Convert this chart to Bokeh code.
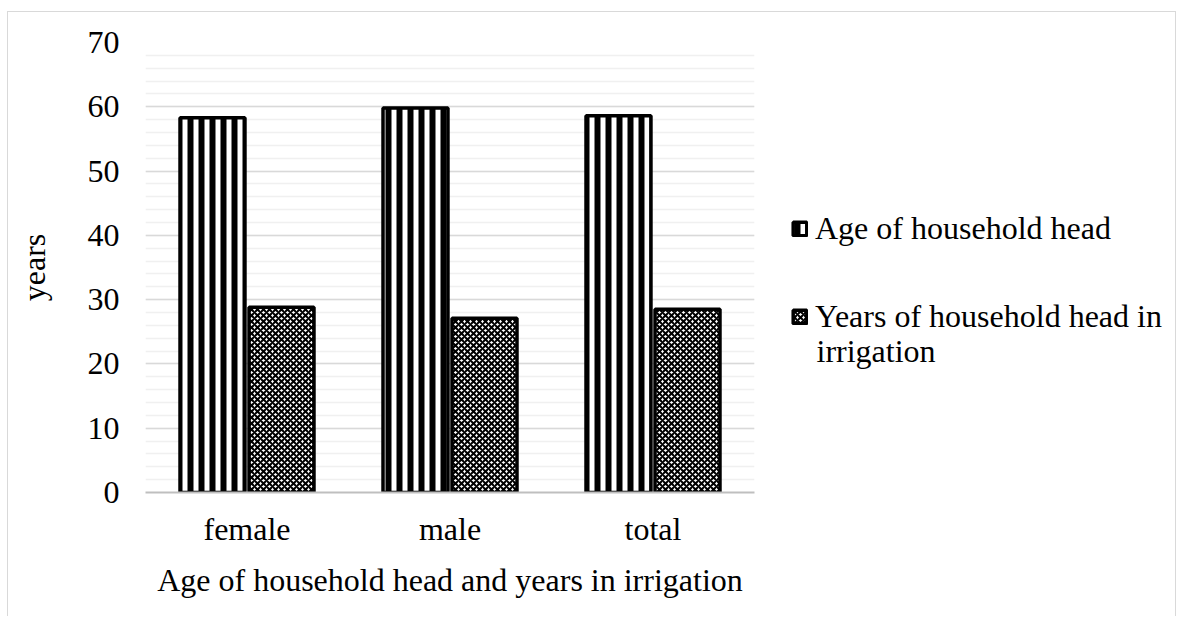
from bokeh.plotting import figure
from bokeh.layouts import row
from bokeh.models import (FactorRange, Range1d, SingleIntervalTicker, Legend,
                          LegendItem, ColumnDataSource, Label)
from bokeh.transform import dodge
from bokeh.embed import file_html
from bokeh.resources import INLINE

# ---- data ----
categories = ["female", "male", "total"]
age_of_head = [58.3, 59.8, 58.6]
years_in_irrigation = [28.8, 27.1, 28.5]
series_names = ["Age of household head", "Years of household head in"]
series2_wrap = "irrigation"
y_axis_title = "years"
x_axis_title = "Age of household head and years in irrigation"

FONT = "Liberation Serif"
FS = "32px"
H = 604

AGE_STYLE = dict(fill_color="white", line_color="black", line_width=3.5,
                 hatch_pattern="vertical_line", hatch_color="black",
                 hatch_weight=6, hatch_scale=11)
YRS_STYLE = dict(fill_color="white", line_color="black", line_width=3.5,
                 hatch_pattern="diagonal_cross", hatch_color="black",
                 hatch_weight=2, hatch_scale=6)

src = ColumnDataSource(dict(cat=categories, age=age_of_head, yrs=years_in_irrigation))

p = figure(width=756, height=H, output_backend="svg", toolbar_location=None,
           x_range=FactorRange(factors=categories), y_range=Range1d(0, 70),
           min_border_left=137, min_border_right=10, min_border_top=30,
           min_border_bottom=H - 30 - 450)
p.outline_line_color = None

r1 = p.vbar(x=dodge("cat", -0.17, range=p.x_range), top="age", width=0.32, bottom=0,
            source=src, **AGE_STYLE)
r2 = p.vbar(x=dodge("cat", 0.17, range=p.x_range), top="yrs", width=0.32, bottom=0,
            source=src, **YRS_STYLE)

# axes
p.yaxis.ticker = SingleIntervalTicker(interval=10, num_minor_ticks=5)
p.yaxis.axis_line_color = None
p.yaxis.major_tick_line_color = None
p.yaxis.minor_tick_line_color = None
p.yaxis.major_label_standoff = 20
p.yaxis.major_label_text_font = FONT
p.yaxis.major_label_text_font_size = FS
p.yaxis.major_label_text_color = "black"
p.yaxis.axis_label = y_axis_title
p.yaxis.axis_label_text_font = FONT
p.yaxis.axis_label_text_font_size = FS
p.yaxis.axis_label_text_font_style = "normal"
p.yaxis.axis_label_text_color = "black"
p.yaxis.axis_label_standoff = 33

p.xaxis.axis_line_color = "#bfbfbf"
p.xaxis.axis_line_width = 2
p.xaxis.major_tick_line_color = None
p.xaxis.minor_tick_line_color = None
p.xaxis.major_label_standoff = 12
p.xaxis.major_label_text_font = FONT
p.xaxis.major_label_text_font_size = FS
p.xaxis.major_label_text_color = "black"
p.xaxis.axis_label = x_axis_title
p.xaxis.axis_label_text_font = FONT
p.xaxis.axis_label_text_font_size = FS
p.xaxis.axis_label_text_font_style = "normal"
p.xaxis.axis_label_text_color = "black"
p.xaxis.axis_label_standoff = 12

p.xgrid.grid_line_color = None
p.ygrid.grid_line_color = "#d9d9d9"
p.ygrid.grid_line_width = 1.5
p.ygrid.minor_grid_line_color = "#f0f0f0"
p.ygrid.minor_grid_line_width = 1.5

# ---- legend panel (proxy renderers map outside its ranges, so only the legend shows) ----
lg = figure(width=411, height=H, output_backend="svg", toolbar_location=None,
            x_range=FactorRange(factors=["legend"]), y_range=Range1d(-20, -10),
            min_border=0, min_border_left=0, min_border_right=0,
            min_border_top=0, min_border_bottom=0)
lg.axis.visible = False
lg.grid.visible = False
lg.outline_line_color = None
d1 = lg.vbar(x="cat", top="age", width=0.1, bottom=0, source=src, **AGE_STYLE)
d2 = lg.vbar(x="cat", top="yrs", width=0.1, bottom=0, source=src, **YRS_STYLE)

legend = Legend(items=[LegendItem(label=series_names[0], renderers=[d1], index=0),
                       LegendItem(label=series_names[1], renderers=[d2], index=0)],
                location=(27, 157), orientation="vertical")
legend.border_line_color = None
legend.background_fill_alpha = 0
legend.padding = 0
legend.margin = 0
legend.spacing = 51
legend.glyph_width = 17
legend.glyph_height = 17
legend.label_standoff = 7
legend.label_text_font = FONT
legend.label_text_font_size = FS
legend.label_text_color = "black"
lg.add_layout(legend, "center")

lg.add_layout(Label(x=52, y=142, x_units="screen", y_units="screen",
                    text=series2_wrap, text_font=FONT, text_font_size=FS,
                    text_color="black", text_baseline="middle"))

layout = row(p, lg, margin=(11, 0, 0, 7),
             styles={"border-top": "1px solid #d9d9d9",
                     "border-left": "1px solid #d9d9d9",
                     "border-right": "1px solid #d9d9d9"})

open("out.html", "w").write(file_html(layout, INLINE))
